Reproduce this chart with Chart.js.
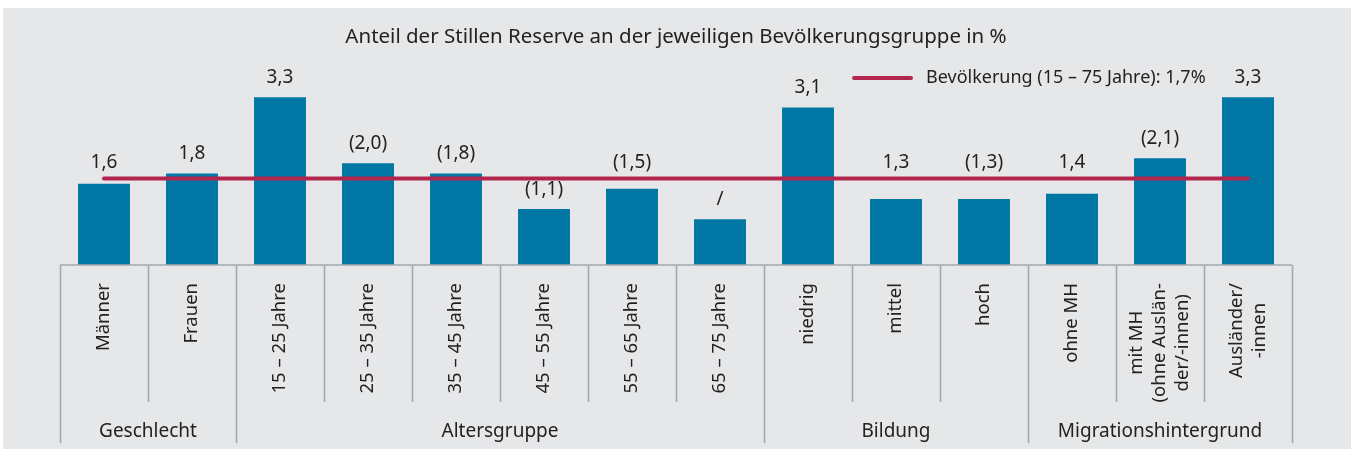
<!DOCTYPE html>
<html lang="de">
<head>
<meta charset="UTF-8">
<title>Stille Reserve nach Bevölkerungsgruppe</title>
<script src="https://cdn.jsdelivr.net/npm/chart.js"></script>
<style>
  html, body { margin: 0; padding: 0; background: #fff; }
  .panel { position: absolute; left: 3px; top: 8px; width: 1348px; height: 441px; background: #e6e7e9; }
  .wrap { position: absolute; left: 0; top: 0; width: 1351px; height: 453px; }
</style>
</head>
<body>
<div class="panel"></div>
<div class="wrap"><canvas id="chart"></canvas></div>

<script>
const FONT = '"Noto Sans", "Open Sans", sans-serif';
const TEXT = '#222';
const RED = '#b2264e';

// categories (multi-line labels as arrays)
const categories = [
    ['Männer'], ['Frauen'],
    ['15 – 25 Jahre'], ['25 – 35 Jahre'], ['35 – 45 Jahre'], ['45 – 55 Jahre'], ['55 – 65 Jahre'], ['65 – 75 Jahre'],
    ['niedrig'], ['mittel'], ['hoch'],
    ['ohne MH'], ['mit MH', '(ohne Auslän-', 'der/-innen)'], ['Ausländer/', '-innen']
];
// share of the silent reserve in %
const shares = [1.6, 1.8, 3.3, 2.0, 1.8, 1.1, 1.5, 0.9, 3.1, 1.3, 1.3, 1.4, 2.1, 3.3];
const valueLabels = ['1,6', '1,8', '3,3', '(2,0)', '(1,8)', '(1,1)', '(1,5)', '/', '3,1', '1,3', '(1,3)', '1,4', '(2,1)', '3,3'];
// whole population reference
const populationLine = [1.7, 1.7, 1.7, 1.7, 1.7, 1.7, 1.7, 1.7, 1.7, 1.7, 1.7, 1.7, 1.7, 1.7];
const legendLabel = 'Bevölkerung (15 – 75 Jahre): 1,7%';
const groups = ['Geschlecht', 'Altersgruppe', 'Bildung', 'Migrationshintergrund'];
const groupSizes = [2, 6, 3, 3];

const bottomPlugin = {
    id: 'bottomAxis',
    afterDatasetsDraw(chart) {
        const ctx = chart.ctx;
        const barMeta = chart.getDatasetMeta(1);
        const lineY = chart.scales.y.getPixelForValue(populationLine[0]);
        ctx.save();
        ctx.fillStyle = TEXT;
        ctx.font = '19px ' + FONT;
        ctx.textAlign = 'center';
        ctx.textBaseline = 'alphabetic';
        barMeta.data.forEach((el, i) => {
            let y = el.y - 14;
            // labels that would hit the reference line go above it
            if (el.y > lineY && el.y < lineY + 28) y = lineY - 11;
            ctx.fillText(valueLabels[i], el.x, y);
        });

        // legend
        ctx.strokeStyle = RED;
        ctx.lineWidth = 4;
        ctx.lineCap = 'round';
        ctx.beginPath();
        ctx.moveTo(854, 78);
        ctx.lineTo(911, 78);
        ctx.stroke();
        ctx.textAlign = 'left';
        ctx.textBaseline = 'middle';
        ctx.font = '18px ' + FONT;
        ctx.fillText(legendLabel, 926, 78);
        ctx.restore();
    },
    afterDraw(chart) {
        const ctx = chart.ctx;
        const x = chart.scales.x;
        const area = chart.chartArea;
        const step = x.getPixelForValue(1) - x.getPixelForValue(0);
        const left = x.getPixelForValue(0) - step / 2;
        const right = x.getPixelForValue(categories.length - 1) + step / 2;
        const base = area.bottom;

        ctx.save();
        ctx.strokeStyle = '#a7a8aa';
        ctx.lineWidth = 1.6;
        ctx.beginPath();
        ctx.moveTo(left, base);
        ctx.lineTo(right, base);

        // group boundaries run further down
        const bounds = [0];
        groupSizes.forEach(n => bounds.push(bounds[bounds.length - 1] + n));
        for (let k = 0; k <= categories.length; k++) {
            const px = Math.round(left + k * step) + 0.5;
            const long = bounds.includes(k);
            ctx.moveTo(px, base);
            ctx.lineTo(px, base + (long ? 178 : 137));
        }
        ctx.stroke();

        // category labels, rotated
        ctx.fillStyle = TEXT;
        ctx.font = '18.5px ' + FONT;
        ctx.textAlign = 'center';
        ctx.textBaseline = 'middle';
        const lh = 23;
        categories.forEach((lines, i) => {
            const cx = x.getPixelForValue(i);
            const w = Math.max(...lines.map(l => ctx.measureText(l).width));
            const cy = base + 18 + w / 2;
            lines.forEach((l, j) => {
                ctx.save();
                ctx.translate(cx + (j - (lines.length - 1) / 2) * lh, cy);
                ctx.rotate(-Math.PI / 2);
                ctx.fillText(l, 0, 0);
                ctx.restore();
            });
        });

        // group labels
        ctx.font = '19px ' + FONT;
        groups.forEach((g, k) => {
            const gx = left + (bounds[k] + bounds[k + 1]) / 2 * step;
            ctx.fillText(g, gx, base + 167);
        });
        ctx.restore();
    }
};

new Chart(document.getElementById('chart'), {
    data: {
        labels: categories,
        datasets: [
            {
                type: 'line',
                label: legendLabel,
                data: populationLine,
                borderColor: RED,
                borderWidth: 4,
                borderCapStyle: 'round',
                pointRadius: 0,
                order: 0
            },
            {
                type: 'bar',
                label: 'Anteil',
                data: shares,
                backgroundColor: '#0076a5',
                barPercentage: 0.59,
                categoryPercentage: 1,
                order: 1
            }
        ]
    },
    options: {
        responsive: true,
        maintainAspectRatio: false,
        animation: false,
        layout: { padding: { left: 60, right: 59, top: 0, bottom: 188 } },
        plugins: {
            legend: { display: false },
            tooltip: { enabled: false },
            title: {
                display: true,
                text: 'Anteil der Stillen Reserve an der jeweiligen Bevölkerungsgruppe in %',
                color: TEXT,
                font: { family: FONT, size: 20.5, weight: 'normal' },
                padding: { top: 25, bottom: 10 }
            }
        },
        scales: {
            x: { display: false },
            y: { display: false, min: 0, max: 4.04 }
        }
    },
    plugins: [bottomPlugin]
});
</script>
</body>
</html>
